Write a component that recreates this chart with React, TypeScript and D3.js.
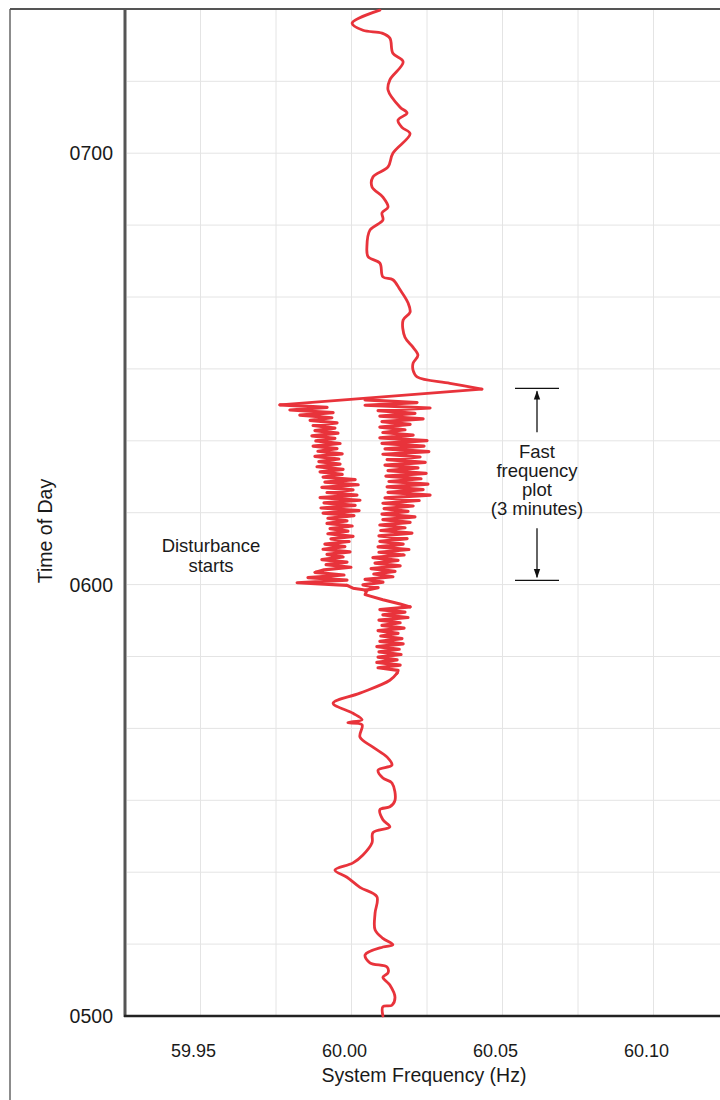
import { useRef, useEffect } from 'react'
import * as d3 from 'd3'

// y axis: minutes after 05:00, x axis: system frequency (Hz)
const hourTicks = [0, 60, 120]
const hourLabels = ['0500', '0600', '0700']
const freqTicks = [59.95, 60.0, 60.05, 60.1]
const freqLabels = ['59.95', '60.00', '60.05', '60.10']
const gridMinutes = [10, 20, 30, 40, 50, 60, 70, 80, 90, 100, 110, 120, 130]
const gridFreqs = [59.95, 59.975, 60.0, 60.025, 60.05, 60.075, 60.1, 60.125]

// slow trace before the disturbance: [minutes, deviation from 60 Hz in mHz]
const upperTrace: [number, number][] = [
  [139.9, 9.4], [138.1, 0.2], [137.1, 3.8], [136.7, 10.1], [136.0, 12.7], [133.9, 13.7],
  [132.7, 17.1], [130.2, 12.7], [128.8, 12.1], [126.4, 16.1], [125.6, 18.4], [124.6, 15.4],
  [123.6, 16.7], [122.7, 19.4], [120.0, 13.7], [118.1, 12.1], [116.7, 7.1], [115.3, 6.8],
  [113.9, 10.4], [112.5, 12.1], [111.7, 10.1], [110.7, 10.4], [109.3, 6.1], [107.0, 5.1],
  [105.6, 5.5], [104.7, 9.4], [102.8, 10.4], [102.4, 13.7], [101.0, 16.1], [99.2, 18.7],
  [97.9, 19.4], [96.8, 17.1], [94.4, 17.7], [93.0, 20.4], [91.9, 22.0], [90.8, 20.4],
  [89.8, 20.4], [88.9, 21.7], [88.0, 32.6], [87.2, 43.2],
]
const spikeReturn: [number, number][] = [[87.2, 43.2], [85.0, -23.7]]

// fast frequency plot (3 minutes), drawn as two bands
const fastLeftSpan = [85.0, 59.9]
const fastLeft = [
  -23.7, -8.1, -20.4, -6.1, -17.1, -6.5, -13.7, -4.8, -12.7, -5.5, -12.1, -4.5, -13.1, -5.5,
  -11.8, -3.8, -12.7, -4.8, -11.1, -3.1, -12.1, -4.2, -10.8, -3.8, -11.4, -2.8, -10.4, -3.1,
  -9.4, 1.2, -8.8, 2.2, -9.8, 0.5, -8.1, 1.8, -10.4, 2.8, -9.1, 1.2,
  -10.1, 2.5, -9.4, 0.8,
  -7.8, -1.5, -8.1, 0.2, -7.1, -1.2, -7.8, 0.5, -6.8, -0.8,
  -8.8, -2.2, -9.4, -0.5, -8.1, -2.8, -9.8, -1.5, -8.4, -0.2, -9.1,
  -12.1, -2.5, -14.4, -1.5, -18.0, -1.5,
]
const fastRightSpan = [85.7, 59.2]
const fastRight = [
  4.5, 21.7, 4.5, 26.0, 8.8, 21.0, 9.4, 23.7, 10.1, 19.4, 9.4, 17.7, 10.4, 20.4, 9.4, 25.0,
  10.1, 24.0, 11.1, 25.6,
  10.4, 22.7, 11.8, 24.4, 11.1, 22.0, 12.1, 24.7, 11.4, 23.0, 12.4, 25.3, 11.8, 23.7, 12.1,
  26.0, 11.1, 22.4,
  10.4, 20.4, 10.8, 18.7, 10.1, 21.0, 10.4, 19.4, 9.4, 17.7, 9.7, 20.0, 9.1, 18.4, 9.4, 17.1,
  8.8, 19.0, 9.1, 17.4,
  7.1, 15.4, 7.8, 16.1, 6.5, 14.4, 7.4, 13.7, 4.5, 10.4, 3.8, 8.8, 4.5,
]

const junction: [number, number][] = [
  [59.9, -1.5], [59.5, 0.5], [59.2, 5.1], [58.6, 4.5], [57.9, 10.4], [57.3, 16.1], [56.9, 19.4],
]
const fastLowerSpan = [56.9, 47.7]
const fastLower = [
  19.4, 9.4, 17.7, 10.4, 18.7, 9.1, 16.1, 10.1, 17.4, 8.8, 15.4, 9.7, 16.7, 9.4, 17.1, 8.4,
  15.8, 9.1, 16.4, 8.8, 15.1, 8.4, 16.1, 8.8, 15.4, 15.1,
]

// slow trace after 05:00 up to the disturbance
const lowerTrace: [number, number][] = [
  [47.7, 15.1], [46.7, 12.7], [44.9, 2.8], [43.5, -6.1], [42.1, 0.5], [41.2, 3.5], [40.8, -1.2],
  [40.5, 3.5], [38.8, 2.8], [37.4, 7.1], [36.0, 11.8], [34.9, 13.4], [34.2, 8.8], [33.1, 10.4],
  [32.4, 13.4], [30.0, 14.4], [29.1, 12.7], [28.7, 9.4], [27.3, 10.4], [26.3, 12.7], [25.5, 7.1],
  [24.1, 6.8], [22.4, 3.8], [21.3, 0.5], [20.3, -5.5], [19.3, -1.5], [17.9, 2.8], [16.6, 8.4],
  [14.3, 7.8], [12.0, 7.8], [10.8, 10.4], [9.9, 13.7], [9.6, 10.4], [8.5, 4.5], [7.4, 6.1],
  [6.8, 11.8], [6.0, 12.1], [5.4, 10.4], [4.3, 12.7], [2.6, 14.4], [1.5, 13.4], [1.3, 10.4],
  [0, 10.4],
]

const fastWindow = [87.3, 60.6]
const fastNote = ['Fast', 'frequency', 'plot', '(3 minutes)']
const startNote = ['Disturbance', 'starts']

const FONT = "'Liberation Sans', Arial, Helvetica, sans-serif"
const RED = '#e8333b'

function spread(values: number[], span: number[]): [number, number][] {
  const t = d3.scaleLinear().domain([0, values.length - 1]).range(span)
  return values.map((v, i) => [t(i), v])
}

function FrequencyChart() {
  const svgRef = useRef<SVGSVGElement>(null)

  useEffect(() => {
    const svg = d3.select(svgRef.current)
    svg.selectAll('*').remove()

    const x = d3.scaleLinear().domain([59.925, 60.125]).range([125, 729])
    const y = d3.scaleLinear().domain([0, 140]).range([1016, 9.4])
    const fx = (d: [number, number]) => x(60 + d[1] / 1000)
    const fy = (d: [number, number]) => y(d[0])

    const defs = svg.append('defs')
    defs.append('marker')
      .attr('id', 'head')
      .attr('viewBox', '0 0 10 10')
      .attr('refX', 9).attr('refY', 5)
      .attr('markerWidth', 7).attr('markerHeight', 9)
      .attr('orient', 'auto')
      .append('path').attr('d', 'M0,1.5 L10,5 L0,8.5 Z').attr('fill', '#111')

    // grid
    const grid = svg.append('g').attr('stroke', '#e4e4e4').attr('stroke-width', 1)
    gridMinutes.forEach((m) => {
      grid.append('line').attr('x1', 127).attr('x2', 720).attr('y1', y(m)).attr('y2', y(m))
    })
    gridFreqs.forEach((f) => {
      grid.append('line').attr('x1', x(f)).attr('x2', x(f)).attr('y1', 10).attr('y2', 1015)
    })

    // frame and axes
    svg.append('line').attr('x1', 10).attr('x2', 10).attr('y1', 9).attr('y2', 1100)
      .attr('stroke', '#666').attr('stroke-width', 1.5)
    svg.append('line').attr('x1', 10).attr('x2', 720).attr('y1', 9).attr('y2', 9)
      .attr('stroke', '#555').attr('stroke-width', 2)
    svg.append('line').attr('x1', 125).attr('x2', 125).attr('y1', 9).attr('y2', 1017)
      .attr('stroke', '#555').attr('stroke-width', 3)
    svg.append('line').attr('x1', 124).attr('x2', 720).attr('y1', 1016).attr('y2', 1016)
      .attr('stroke', '#222').attr('stroke-width', 2.5)

    const text = (tx: number, ty: number, s: string, anchor = 'middle', size = 18) =>
      svg.append('text')
        .attr('x', tx).attr('y', ty)
        .attr('text-anchor', anchor)
        .attr('font-family', FONT)
        .attr('font-size', size)
        .attr('fill', '#1a1a1a')
        .text(s)

    hourTicks.forEach((m, i) => text(113, y(m) + 7, hourLabels[i], 'end', 19.5))
    freqTicks.forEach((f, i) => text(x(f) - 7, 1057, freqLabels[i]))
    text(424, 1082, 'System Frequency (Hz)', 'middle', 19.5)
    text(0, 0, 'Time of Day', 'middle', 19.5)
      .attr('transform', 'translate(52,531) rotate(-90)')

    // trace
    const smooth = d3.line<[number, number]>().x(fx).y(fy).curve(d3.curveCatmullRom.alpha(0.5))
    const straight = d3.line<[number, number]>().x(fx).y(fy)
    const trace = svg.append('g')
      .attr('fill', 'none').attr('stroke', RED)
      .attr('stroke-linejoin', 'round').attr('stroke-linecap', 'round')
    trace.append('path').attr('d', smooth(upperTrace)).attr('stroke-width', 2.8)
    trace.append('path').attr('d', straight(spikeReturn)).attr('stroke-width', 2.8)
    trace.append('path').attr('d', straight(spread(fastLeft, fastLeftSpan))).attr('stroke-width', 3.2)
    trace.append('path').attr('d', straight(spread(fastRight, fastRightSpan))).attr('stroke-width', 3.2)
    trace.append('path').attr('d', straight(junction)).attr('stroke-width', 3)
    trace.append('path').attr('d', straight(spread(fastLower, fastLowerSpan))).attr('stroke-width', 3.2)
    trace.append('path').attr('d', smooth(lowerTrace)).attr('stroke-width', 2.8)

    // annotations
    const ax = 537
    const yTop = y(fastWindow[0])
    const yBot = y(fastWindow[1])
    const ann = svg.append('g').attr('stroke', '#111').attr('stroke-width', 1.3)
    ann.append('line').attr('x1', ax - 22).attr('x2', ax + 22).attr('y1', yTop).attr('y2', yTop)
    ann.append('line').attr('x1', ax - 22).attr('x2', ax + 22).attr('y1', yBot).attr('y2', yBot)
    ann.append('line').attr('x1', ax).attr('x2', ax).attr('y1', yTop + 44).attr('y2', yTop + 3)
      .attr('marker-end', 'url(#head)')
    ann.append('line').attr('x1', ax).attr('x2', ax).attr('y1', yBot - 52).attr('y2', yBot - 3)
      .attr('marker-end', 'url(#head)')
    fastNote.forEach((s, i) => text(ax, 458 + i * 19, s, 'middle', 18.5))
    startNote.forEach((s, i) => text(211, 552 + i * 20, s, 'middle', 18.5))
  }, [])

  return <svg ref={svgRef} width={720} height={1100} style={{ position: 'absolute', left: 0, top: 0, background: '#fff' }} />
}

export default function App() {
  return <FrequencyChart />
}
